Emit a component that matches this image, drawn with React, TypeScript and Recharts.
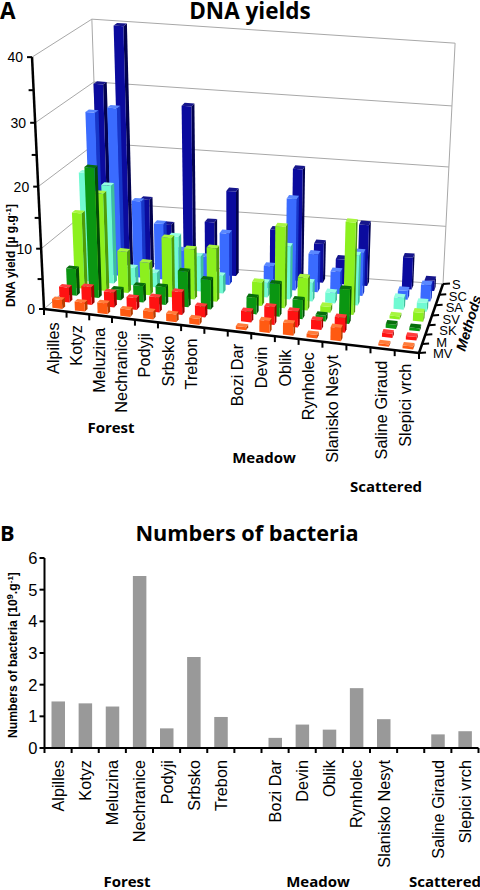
import React from 'react';
import { BarChart, Bar, XAxis, YAxis } from 'recharts';

const sites = ['Alpilles', 'Kotyz', 'Meluzina', 'Nechranice', 'Podyji', 'Srbsko', 'Trebon', '', 'Bozi Dar', 'Devin', 'Oblik', 'Rynholec', 'Slanisko Nesyt', ' ', 'Saline Giraud', 'Slepici vrch'];

// DNA yield per method, front row first
const methods = ['MV', 'M', 'SK', 'SV', 'SA', 'SC', 'S'];
const mv = [1.5, 1.5, 1.8, 1.2, 1.3, 1.3, 1, null, 0.5, 2, 2, 0.6, 2.2, null, 0.4, 0.5];
const m = [2.5, 3, 2.5, 2, 2.5, 3.8, 1.8, null, 1.8, 3, 2.7, 1.6, 2.5, null, 0.7, 0.6];
const sk = [4.5, 21.5, 1.8, 2.8, 3, 6, 5, null, 2.8, 5.5, 3.2, 1, 5.8, null, 0.7, 0.5];
const sv = [12.7, 16.3, 7, 5.5, 10, 8.5, 9, null, 4, 13.7, 5.5, 1, 15.5, null, 0.5, 1.5];
const sa = [18.2, 16.5, 3, 2.5, 9, 6, 3, null, 2.5, 9, 3.2, 1.8, 8.5, null, 2, 1.5];
const sc = [27, 28, 13, 9.5, 5.3, 4.5, 8.8, null, 3.8, 15.5, 6.5, 3.8, 7.4, null, 1.5, 2.8];
const s = [30.5, 40, 12, 8, 28, 9, 14.5, null, 8.5, 19, 6.7, 4.3, 10.5, null, 5.5, 1.8];
const bacteria = [1.47, 1.41, 1.31, 5.43, 0.62, 2.87, 0.98, null, 0.32, 0.74, 0.58, 1.89, 0.91, null, 0.43, 0.53];

const seriesA = [mv, m, sk, sv, sa, sc, s];
const dnaData = sites.map((site, i) => {
  const row: Record<string, any> = { site };
  methods.forEach((name, r) => { row[name] = seriesA[r][i]; });
  return row;
});
const bacteriaData = sites.map((site, i) => ({ site, bacteria: bacteria[i] }));

// [front, top, side]
const faces: Record<string, string[]> = {
  MV: ['#ff5a12', '#ff7d3c', '#b83c00'],
  M: ['#ff1212', '#ff3c3c', '#a00000'],
  SK: ['#0a9612', '#066e0c', '#034c06'],
  SV: ['#8cf01e', '#a8f640', '#4f9c0a'],
  SA: ['#70fad2', '#96ffe2', '#3fbf9c'],
  SC: ['#3a6bff', '#5a88ff', '#1636c8'],
  S: ['#0b0b9e', '#16168c', '#02024f'],
};

// plot box of chart A, mapped onto the slanted floor below
const LEFT = 40, TOP = 40, W = 400, H = 300, BOTTOM = TOP + H;
const FL = [44, 309], FR = [419, 353], BR = [443, 284], BL = [100, 260];

const floor = (u: number, d: number) => {
  const uu = u - 0.04 * u * (1 - u);
  const dd = d - 0.11 * d * (1 - d);
  const fx = FL[0] + (FR[0] - FL[0]) * uu, fy = FL[1] + (FR[1] - FL[1]) * uu;
  const bx = BL[0] + (BR[0] - BL[0]) * uu, by = BL[1] + (BR[1] - BL[1]) * uu;
  return [fx + (bx - fx) * dd, fy + (by - fy) * dd];
};

const pt = (u: number, d: number, v = 0) => {
  const [x, y] = floor(u, d);
  const scale = 5.94 - 0.26 * d;
  const lift = scale * v * (1 + 0.0015 * v);
  return [x + (x - 238) * 0.000245 * lift, y - lift];
};

const poly = (pts: number[][]) => pts.map((p) => p[0].toFixed(1) + ',' + p[1].toFixed(1)).join(' ');
const line = (a: number[], b: number[], stroke: string, sw: number) => (
  <line x1={a[0]} y1={a[1]} x2={b[0]} y2={b[1]} stroke={stroke} strokeWidth={sw} />
);

const Prism = (props: any) => {
  const { x, y, width, height, row } = props;
  if (!height || height <= 0 || isNaN(y)) return null;
  const u0 = (x - LEFT) / W, u1 = (x + width - LEFT) / W;
  const d0 = (row + 0.3) / 7, d1 = (row + 0.7) / 7;
  const v = (height / H) * 40;
  const [front, top, side] = faces[methods[row]];
  const a = pt(u0, d0), b = pt(u1, d0), c = pt(u1, d1);
  const a2 = pt(u0, d0, v), b2 = pt(u1, d0, v), c2 = pt(u1, d1, v), e2 = pt(u0, d1, v);
  return (
    <g>
      <polygon points={poly([b, c, c2, b2])} fill={side} />
      <polygon points={poly([a, b, b2, a2])} fill={front} />
      <polygon points={poly([a2, b2, c2, e2])} fill={top} />
    </g>
  );
};

const Walls = () => {
  const levels = [0, 10, 20, 30, 40];
  const rowTicks = [0, 1, 2, 3, 4, 5, 6, 7];
  return (
    <g>
      {levels.map((v) => (
        <g key={v}>
          {line(pt(0, 0, v), pt(0, 1, v), '#a8a8a8', 1)}
          {line(pt(0, 1, v), pt(1, 1, v), '#a8a8a8', 1)}
        </g>
      ))}
      {line(pt(0, 1, 0), pt(0, 1, 40), '#a8a8a8', 1)}
      {line(pt(1, 1, 0), pt(1, 1, 40), '#a8a8a8', 1)}
      {line(pt(0, 0, 0), pt(0, 0, 40), '#000', 2.5)}
      {line(pt(0, 0, 0), pt(1, 0, 0), '#000', 2.5)}
      {line(pt(1, 0, 0), pt(1, 1, 0), '#000', 2.5)}
      {rowTicks.map((r) => {
        const p = pt(1, r / 7);
        return <g key={r}>{line(p, [p[0] + 7, p[1] - 0.5], '#000', 2)}</g>;
      })}
      {methods.map((name, r) => {
        const f = r / 6;
        return (
          <text key={name} x={433 + 19 * f} y={353 - 69 * f + 5} fontSize={13} fontFamily="Liberation Sans">{name}</text>
        );
      })}
      <text transform="translate(465,352) rotate(-73)" fontSize={14} fontWeight="bold" fontStyle="italic" fontFamily="Liberation Sans">Methods</text>
      <text x={0} y={19} fontSize={22.5} fontWeight="bold" fontFamily="Open Sans">A</text>
      <text x={250} y={19} textAnchor="middle" fontSize={22.5} fontWeight="bold" fontFamily="Open Sans">DNA yields</text>
      <text transform="translate(15,307) rotate(-90)" fontSize={12} fontWeight="bold" fontFamily="Liberation Sans">
        DNA yield [µ g.g<tspan dy={-4} fontSize={8}>-1</tspan><tspan dy={4}>]</tspan>
      </text>
      <text x={111} y={433} textAnchor="middle" fontSize={15} fontWeight="bold" fontFamily="Open Sans">Forest</text>
      <text x={264} y={463} textAnchor="middle" fontSize={15} fontWeight="bold" fontFamily="Open Sans">Meadow</text>
      <text x={386} y={492} textAnchor="middle" fontSize={15} fontWeight="bold" fontFamily="Open Sans">Scattered</text>
    </g>
  );
};

const SlantX = (props: any) => {
  const { x, payload, index } = props;
  const slot = 1 / sites.length;
  const u = (x - LEFT) / W;
  const mark = (uu: number) => {
    const p = pt(uu, 0);
    return line(p, [p[0], p[1] + 6], '#000', 2);
  };
  const base = pt(u, 0);
  const name = String(payload.value).trim();
  return (
    <g>
      {mark(u - slot / 2)}
      {index === sites.length - 1 && mark(u + slot / 2)}
      {name && (
        <text transform={`translate(${base[0] - 2},${base[1] + 12}) rotate(-90)`} dy={6} textAnchor="end" fontSize={16.3} fill="#000" fontFamily="Liberation Sans">
          {name}
        </text>
      )}
    </g>
  );
};

const SlantY = (props: any) => {
  const { y, payload } = props;
  const v = ((BOTTOM - y) / H) * 40;
  const p = pt(0, 0, v);
  return (
    <g>
      {line(p, [p[0] - 5, p[1]], '#000', 2)}
      {payload.value % 10 === 0 && (
        <text x={p[0] - 9} y={p[1] + 5} textAnchor="end" fontSize={14} fill="#000" fontFamily="Liberation Sans">{payload.value}</text>
      )}
    </g>
  );
};

const SiteTick = (props: any) => {
  const { x, y, payload, index } = props;
  const slot = 434 / sites.length;
  const name = String(payload.value).trim();
  return (
    <g>
      <line x1={x - slot / 2} x2={x - slot / 2} y1={y - 8} y2={y - 3} stroke="#000" strokeWidth={2} />
      {index === sites.length - 1 && <line x1={x + slot / 2} x2={x + slot / 2} y1={y - 8} y2={y - 3} stroke="#000" strokeWidth={2} />}
      {name && (
        <text transform={`translate(${x},${y + 4}) rotate(-90)`} dy={6} textAnchor="end" fontSize={16.3} fill="#000" fontFamily="Liberation Sans">
          {name}
        </text>
      )}
    </g>
  );
};

const LabelsB = () => (
  <g>
    <text x={0} y={31} fontSize={21.7} fontWeight="bold" fontFamily="Open Sans">B</text>
    <text x={247} y={31} textAnchor="middle" fontSize={21.7} fontWeight="bold" fontFamily="Open Sans">Numbers of bacteria</text>
    <text transform="translate(16.5,228) rotate(-90)" fontSize={12.2} fontWeight="bold" fontFamily="Liberation Sans">
      Numbers of bacteria [10<tspan dy={-4} fontSize={9}>9</tspan><tspan dy={4}>.g</tspan><tspan dy={-4} fontSize={8}>-1</tspan><tspan dy={4}>]</tspan>
    </text>
    <text x={127} y={377} textAnchor="middle" fontSize={15} fontWeight="bold" fontFamily="Open Sans">Forest</text>
    <text x={318} y={377} textAnchor="middle" fontSize={15} fontWeight="bold" fontFamily="Open Sans">Meadow</text>
    <text x={445} y={377} textAnchor="middle" fontSize={15} fontWeight="bold" fontFamily="Open Sans">Scattered</text>
  </g>
);

export default function App() {
  const order = [6, 5, 4, 3, 2, 1, 0];
  return (
    <div style={{ position: 'absolute', left: 0, top: 0, width: 480, height: 890, background: '#fff', overflow: 'hidden' }}>
      <div style={{ position: 'absolute', left: 0, top: 0 }}>
        <BarChart width={480} height={520} data={dnaData} barSize={11} barGap={-11} margin={{ top: TOP, left: 10, right: 40, bottom: 150 }}>
          <Walls />
          <XAxis dataKey="site" axisLine={false} tickLine={false} interval={0} height={30} tick={<SlantX />} />
          <YAxis domain={[0, 40]} ticks={[0, 5, 10, 15, 20, 25, 30, 35, 40]} interval={0} width={30} axisLine={false} tickLine={false} tick={<SlantY />} />
          {order.map((r) => (
            <Bar key={methods[r]} dataKey={methods[r]} isAnimationActive={false} shape={(p: any) => <Prism {...p} row={r} />} />
          ))}
        </BarChart>
      </div>
      <div style={{ position: 'absolute', left: 0, top: 510 }}>
        <BarChart width={480} height={380} data={bacteriaData} barSize={13.5} margin={{ top: 48, left: 14.5, right: 1.5, bottom: 12 }}>
          <LabelsB />
          <XAxis dataKey="site" interval={0} height={130} axisLine={{ stroke: '#000', strokeWidth: 2 }} tickLine={false} tick={<SiteTick />} />
          <YAxis domain={[0, 6]} ticks={[0, 1, 2, 3, 4, 5, 6]} width={30} axisLine={{ stroke: '#000', strokeWidth: 2 }} tickLine={{ stroke: '#000', strokeWidth: 2 }} tickSize={5} tick={{ fill: '#000', fontSize: 16.5, fontFamily: 'Liberation Sans' }} />
          <Bar dataKey="bacteria" fill="#999999" isAnimationActive={false} />
        </BarChart>
      </div>
    </div>
  );
}
